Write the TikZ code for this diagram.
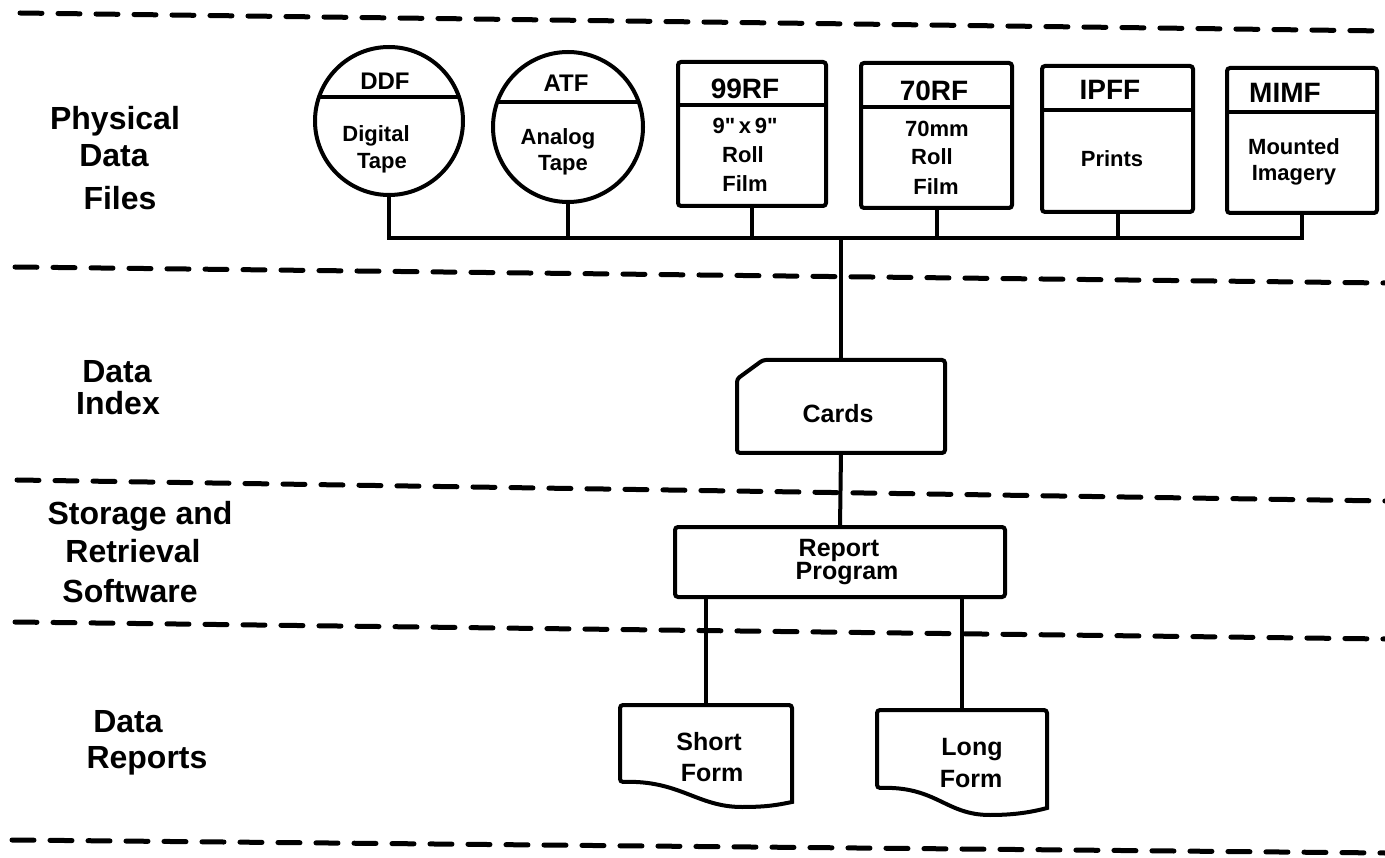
\documentclass[tikz,border=0pt]{standalone}
\usepackage{fontspec}
\setmainfont{Liberation Sans}
\newfontfamily\qfont{Liberation Sans}[Ligatures=TeXOff]
\usetikzlibrary{calc}
\begin{document}
\begin{tikzpicture}[x=1pt,y=-1pt,
  ln/.style={line width=4pt},
  sepline/.style={line width=5pt, dash pattern=on 22pt off 16pt, line cap=round},
  tapec/.style={circle, draw, line width=4pt, inner sep=0pt, outer sep=0pt},
  filebox/.style={rectangle, draw, line width=4pt, rounded corners=3pt, inner sep=0pt, outer sep=0pt},
  plain/.style={rectangle, inner sep=0pt, outer sep=0pt},
  side/.style={anchor=base, inner sep=0pt, font=\fontsize{32}{38}\selectfont\bfseries},
  hdr/.style={anchor=base, inner sep=0pt, font=\fontsize{28}{34}\selectfont\bfseries},
  chdr/.style={anchor=base, inner sep=0pt, font=\fontsize{24}{28}\selectfont\bfseries},
  body/.style={anchor=base, inner sep=0pt, font=\fontsize{22}{26}\selectfont\bfseries},
  mid/.style={anchor=base, inner sep=0pt, font=\fontsize{25}{30}\selectfont\bfseries}]
\useasboundingbox (0,0) rectangle (1385,858);
\fill[white] (0,0) rectangle (1385,858);

% separators
\draw[sepline] (20,13) -- (1385,31);
\draw[sepline] (15,267) -- (1385,283);
\draw[sepline] (17,480) -- (1385,501);
\draw[sepline] (15,622) -- (1385,639);
\draw[sepline] (12,840) -- (1385,853);

% side labels
\node[side] (lPhys) at (115,130) {Physical};
\node[side] (lDataA) at (114,167) {Data};
\node[side] (lFiles) at (120,210) {Files};
\node[side] (lDataB) at (117,383) {Data};
\node[side] (lIndex) at (118,415) {Index};
\node[side] (lStor) at (140,525) {Storage and};
\node[side] (lRetr) at (133,562) {Retrieval};
\node[side] (lSoft) at (130,602) {Software};
\node[side] (lDataC) at (128,732) {Data};
\node[side] (lRep) at (147,768) {Reports};

% tape files
\node[tapec, minimum size=148pt] (ddf) at (389,121) {};
\draw[ln] ($(ddf.center)+(-70,-24)$) -- ($(ddf.center)+(70,-24)$);
\node[chdr] (ddfH) at (385,90) {DDF};
\node[body] (ddfA) at (376,142) {Digital};
\node[body] (ddfB) at (382,169) {Tape};

\node[tapec, minimum size=150pt] (atf) at (568,127) {};
\draw[ln] ($(atf.center)+(-70.7,-25)$) -- ($(atf.center)+(70.7,-25)$);
\node[chdr] (atfH) at (566,92) {ATF};
\node[body] (atfA) at (558,145) {Analog};
\node[body] (atfB) at (563,171) {Tape};

% film / print files
\node[filebox, minimum width=148pt, minimum height=144pt] (f99) at (752,134) {};
\draw[ln] ($(f99.north west)+(0,43)$) -- ($(f99.north east)+(0,43)$);
\node[hdr] (f99H) at (745,99) {99RF};
\node[body] (f99A) at (745,134) {\qfont\bfseries 9"\,x\,9"};
\node[body] (f99B) at (743,163) {Roll};
\node[body] (f99C) at (745,192) {Film};

\node[filebox, minimum width=151pt, minimum height=145pt] (f70) at (936.5,135.5) {};
\draw[ln] ($(f70.north west)+(0,44)$) -- ($(f70.north east)+(0,44)$);
\node[hdr] (f70H) at (934,101) {70RF};
\node[body] (f70A) at (937,137) {70mm};
\node[body] (f70B) at (932,165) {Roll};
\node[body] (f70C) at (936,195) {Film};

\node[filebox, minimum width=151pt, minimum height=146pt] (fip) at (1117.5,139) {};
\draw[ln] ($(fip.north west)+(0,44)$) -- ($(fip.north east)+(0,44)$);
\node[hdr] (fipH) at (1110,100) {IPFF};
\node[body] (fipA) at (1112,167) {Prints};

\node[filebox, minimum width=150pt, minimum height=145pt] (fmi) at (1302,140.5) {};
\draw[ln] ($(fmi.north west)+(0,44)$) -- ($(fmi.north east)+(0,44)$);
\node[hdr] (fmiH) at (1285,103) {MIMF};
\node[body] (fmiA) at (1294,155) {Mounted};
\node[body] (fmiB) at (1294,181) {Imagery};

% bus
\coordinate (bus) at (0,238);
\draw[ln] (ddf.south) -- (ddf.south |- bus) -- (fmi.south |- bus) -- (fmi.south);
\draw[ln] (atf.south) -- (atf.south |- bus);
\draw[ln] (f99.south) -- (f99.south |- bus);
\draw[ln] (f70.south) -- (f70.south |- bus);
\draw[ln] (fip.south) -- (fip.south |- bus);

% cards
\node[plain, minimum width=208pt, minimum height=93pt] (cards) at (841,406.5) {};
\draw[ln, rounded corners=3pt] (cards.south west) -- ($(cards.north west)+(0,19)$) -- ($(cards.north west)+(26,0)$) -- (cards.north east) -- (cards.south east) -- cycle;
\node[mid] (cardsT) at (838,423) {Cards};
\draw[ln] (cards.north |- bus) -- (cards.north);

% report program
\node[filebox, minimum width=330pt, minimum height=70pt] (report) at (840,562) {};
\node[mid] (repA) at (839,556) {Report};
\node[mid] (repB) at (847,579) {Program};
\draw[ln] (cards.south) -- (report.north);

% reports
\node[plain, minimum width=172pt, minimum height=77pt] (short) at (706,743.5) {};
\draw[ln, rounded corners=3pt] ($(short.south east)+(0,20)$) -- (short.north east) -- (short.north west) -- (short.south west) [sharp corners] .. controls +(60,-2) and +(-45,0) .. ($(short.south west)+(122,25)$) .. controls +(25,0) and +(-15,3) .. ($(short.south east)+(0,20)$) -- cycle;
\node[mid] (shortA) at (709,750) {Short};
\node[mid] (shortB) at (712,781) {Form};

\node[plain, minimum width=170pt, minimum height=78pt] (long) at (962,749) {};
\draw[ln, rounded corners=3pt] ($(long.south east)+(0,20)$) -- (long.north east) -- (long.north west) -- (long.south west) [sharp corners] .. controls +(60,-2) and +(-45,0) .. ($(long.south west)+(113,27)$) .. controls +(25,0) and +(-15,4) .. ($(long.south east)+(0,20)$) -- cycle;
\node[mid] (longA) at (972,755) {Long};
\node[mid] (longB) at (971,787) {Form};

\draw[ln] (short.north |- report.south) -- (short.north);
\draw[ln] (long.north |- report.south) -- (long.north);
\end{tikzpicture}
\end{document}
